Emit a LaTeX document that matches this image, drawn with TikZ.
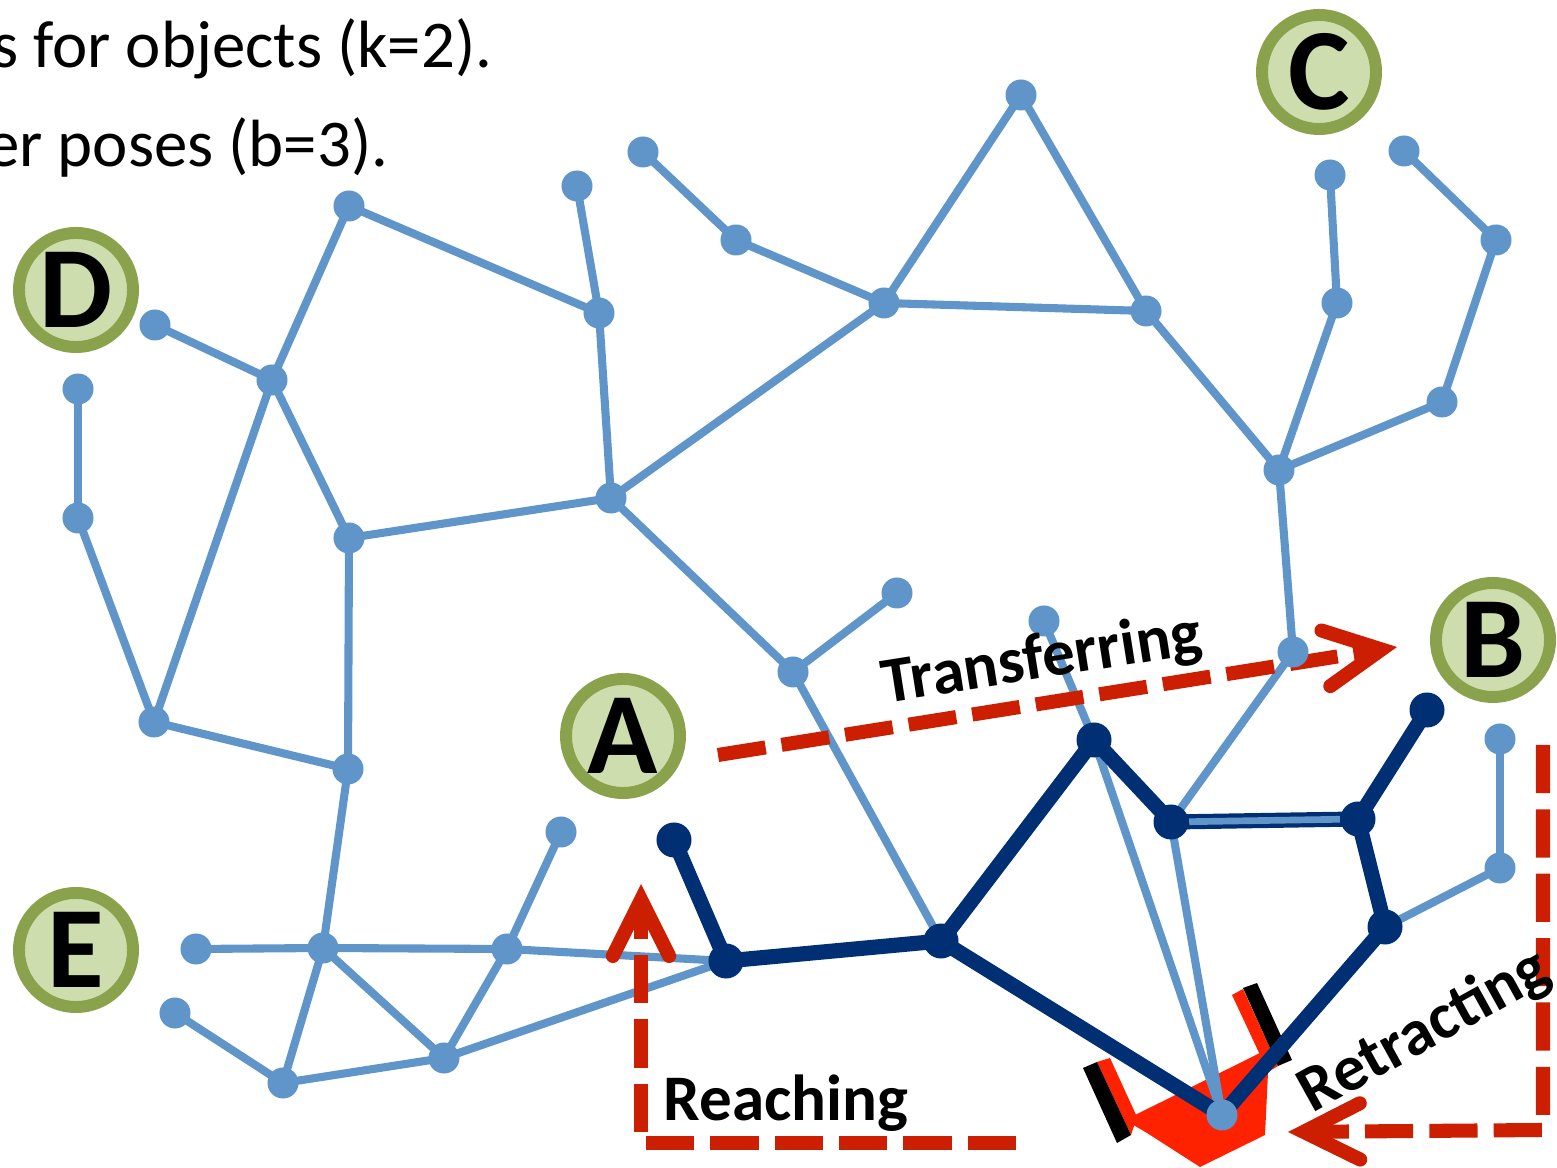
\documentclass[tikz,border=0pt]{standalone}
\usepackage{fontspec}
\setmainfont{Carlito}
\usepackage{tikz}
\usetikzlibrary{positioning,arrows.meta,backgrounds}

\definecolor{lightblue}{HTML}{5F95C9}
\definecolor{darkblue}{HTML}{002F73}
\definecolor{redline}{HTML}{CC1E00}
\definecolor{gripred}{HTML}{FF2200}
\definecolor{ringgreen}{HTML}{8AA24B}
\definecolor{fillgreen}{HTML}{CEDDAE}

\begin{document}
\begin{tikzpicture}
            [x=0.01cm,y=-0.01cm,
             pt/.style={circle, fill=lightblue, inner sep=0pt, minimum size=0.31cm},
             dk/.style={circle, fill=darkblue, inner sep=0pt, minimum size=0.35cm},
             obj/.style={circle, draw=ringgreen, fill=fillgreen, line width=3.4pt, inner sep=0pt, minimum size=1.14cm, font=\fontsize{33}{33}\selectfont\bfseries},
             lightedge/.style={draw=lightblue, line width=2.3pt},
             darkedge/.style={draw=darkblue, line width=4.3pt},
             motion/.style={draw=redline, line width=4pt, dash pattern=on 13.7pt off 4.6pt, -{Straight Barb[length=16pt,width=16pt,line cap=round]}},
             lbl/.style={font=\fontsize{18.5}{20}\selectfont\bfseries}]
          \useasboundingbox (0,0) rectangle (1557,1168);

          \node[anchor=base east, inner sep=0pt, font=\fontsize{19}{22}\selectfont] (line1) at (493,68) {s for objects (k=2).};
          \node[anchor=base east, inner sep=0pt, font=\fontsize{19}{22}\selectfont] (line2) at (389,167) {er poses (b=3).};

          \node[obj] (A) at (623,736) {A};
          \node[obj] (B) at (1493,640) {B};
          \node[obj] (C) at (1319,72) {C};
          \node[obj] (D) at (76,290) {D};
          \node[obj] (E) at (76,950) {E};

          \node[pt] (p1) at (349,206) {};
          \node[pt] (p2) at (577,186) {};
          \node[pt] (p3) at (599,313) {};
          \node[pt] (p4) at (643,152) {};
          \node[pt] (p5) at (736,240) {};
          \node[pt] (p6) at (884,303) {};
          \node[pt] (p7) at (1021,95) {};
          \node[pt] (p8) at (1146,311) {};
          \node[pt] (p9) at (1330,175) {};
          \node[pt] (p10) at (1337,303) {};
          \node[pt] (p11) at (1404,151) {};
          \node[pt] (p12) at (1496,240) {};
          \node[pt] (p13) at (1442,402) {};
          \node[pt] (p14) at (1279,470) {};
          \node[pt] (p15) at (1293,652) {};
          \node[pt] (p16) at (155,325) {};
          \node[pt] (p17) at (272,380) {};
          \node[pt] (p18) at (78,389) {};
          \node[pt] (p19) at (78,518) {};
          \node[pt] (p20) at (154,722) {};
          \node[pt] (p21) at (349,538) {};
          \node[pt] (p22) at (611,498) {};
          \node[pt] (p23) at (348,769) {};
          \node[pt] (p24) at (793,672) {};
          \node[pt] (p25) at (897,593) {};
          \node[pt] (p26) at (1044,621) {};
          \node[pt] (p27) at (561,832) {};
          \node[pt] (p28) at (196,949) {};
          \node[pt] (p29) at (323,948) {};
          \node[pt] (p30) at (507,949) {};
          \node[pt] (p31) at (175,1013) {};
          \node[pt] (p32) at (283,1083) {};
          \node[pt] (p33) at (444,1058) {};
          \node[pt] (p34) at (1500,739) {};
          \node[pt] (p35) at (1500,868) {};

          \node[dk] (q1) at (674,840) {};
          \node[dk] (q2) at (726,961) {};
          \node[dk] (q3) at (941,941) {};
          \node[dk] (q4) at (1094,740) {};
          \node[dk] (q5) at (1171,822) {};
          \node[dk] (q6) at (1358,819) {};
          \node[dk] (q7) at (1427,710) {};
          \node[dk] (q8) at (1385,927) {};

          \node[pt] (grasp) at (1222,1115) {};

          \coordinate (tstart) at (718,755);
          \coordinate (tend) at (1397,647);
          \coordinate (rstart) at (1016,1143);
          \coordinate (rcorner) at (641,1143);
          \coordinate (rend) at (641,884);
          \coordinate (bstart) at (1543,745);
          \coordinate (bcorner) at (1543,1130);
          \coordinate (bend) at (1288,1132);

          \begin{scope}[on background layer]
            \fill[gripred] (1125,1120) -- (1262,1052) -- (1268,1073) -- (1265,1135) -- (1200,1167) -- (1147,1133) -- cycle;
            \fill[gripred] (1097,1062) -- (1110,1058) -- (1137,1117) -- (1131,1135) -- cycle;
            \fill[gripred] (1232,995) -- (1243,989) -- (1278,1066) -- (1268,1072) -- cycle;
            \fill[black] (1083,1068) -- (1097,1062) -- (1131,1135) -- (1117,1143) -- cycle;
            \fill[black] (1243,988) -- (1257,983) -- (1292,1060) -- (1278,1066) -- cycle;

            \foreach \from/\to in {p1/p17, p1/p3, p2/p3, p3/p22, p4/p5, p5/p6, p6/p7, p7/p8, p6/p8, p6/p22,
                                   p8/p14, p9/p10, p10/p14, p11/p12, p12/p13, p13/p14, p14/p15, p15/q5,
                                   p16/p17, p17/p20, p17/p21, p18/p19, p19/p20, p20/p23, p21/p22, p21/p23,
                                   p23/p29, p22/p24, p24/p25, p24/q3, p26/q4, q4/grasp, q5/grasp,
                                   p28/p29, p29/p30, p30/q2, p29/p32, p29/p33, p31/p32, p32/p33, p33/p30,
                                   p30/p27, p33/q2, p34/p35, p35/q8}
              \draw[lightedge] (\from.center) -- (\to.center);

            \foreach \from/\to in {q1/q2, q2/q3, q3/q4, q4/q5, q5/q6, q6/q7, q6/q8, q8/grasp, q3/grasp}
              \draw[darkedge] (\from.center) -- (\to.center);
            \draw[draw=lightblue, line width=1.9pt] (q5) -- (q6);

            \draw[motion] (tstart) -- (tend);
            \draw[motion] (rstart) -- (rcorner) -- (rend);
            \draw[motion] (bstart) -- (bcorner) -- (bend);
          \end{scope}

          \node[lbl, rotate=9] (transfer) at (1042,661) {Transferring};
          \node[lbl] (reach) at (786,1103) {Reaching};
          \node[lbl, rotate=29] (retract) at (1425,1032) {Retracting};
        \end{tikzpicture}
\end{document}
